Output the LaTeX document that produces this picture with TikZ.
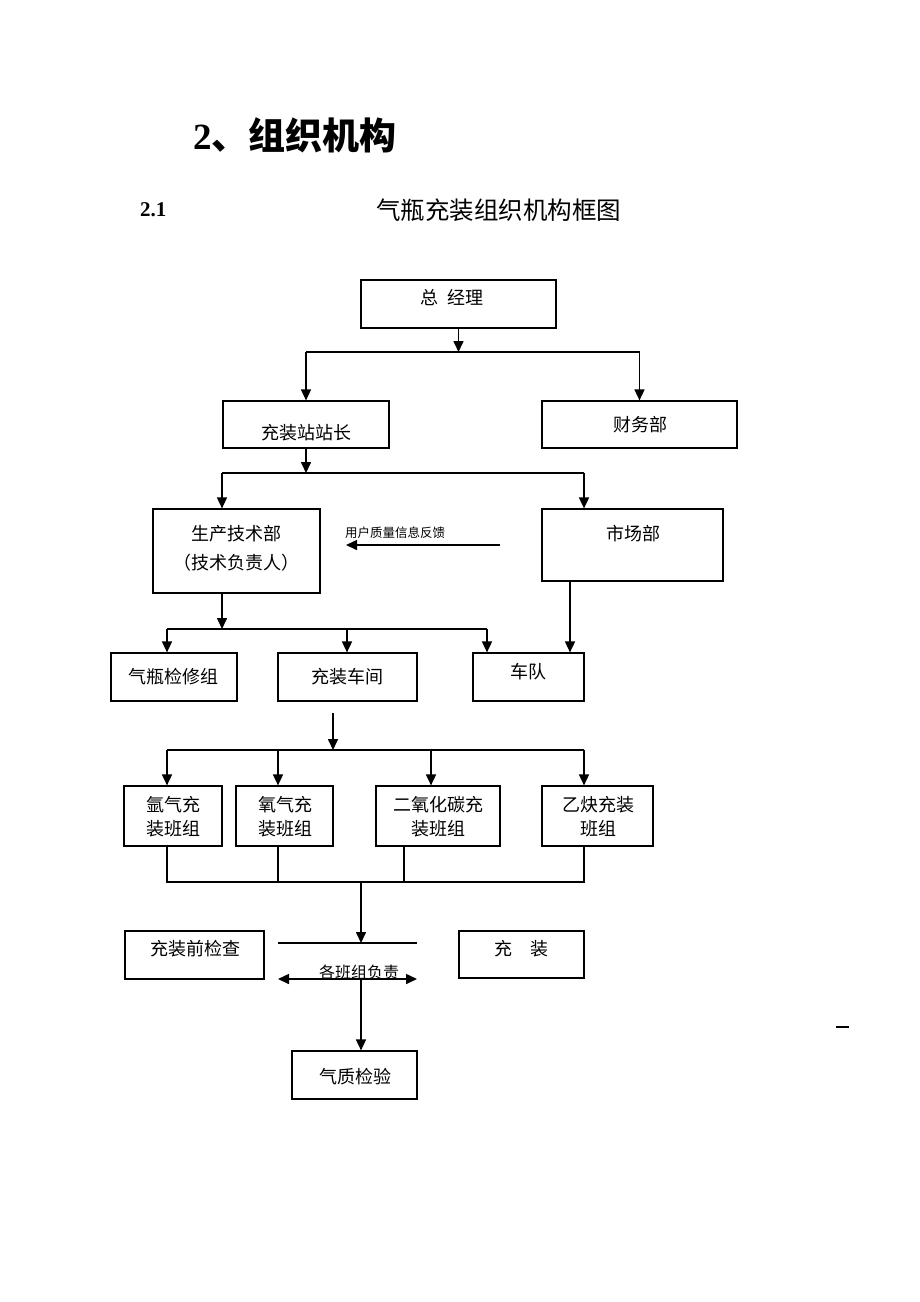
\documentclass[tikz,border=0pt]{standalone}
\usepackage{fontspec}
\setmainfont{Liberation Serif}
\newfontfamily\cjk{Noto Sans CJK SC}
\usetikzlibrary{arrows.meta}
\begin{document}
\begin{tikzpicture}[x=1pt,y=-1pt,
  box/.style={draw, line width=1.2pt, inner sep=0pt},
  txt/.style={font=\cjk\fontsize{18}{22}\selectfont, inner sep=0pt, align=center},
  ln/.style={line width=1.6pt},
  arr/.style={line width=1.6pt, -{Triangle[length=11pt,width=10pt]}},
  darr/.style={line width=1.6pt, {Triangle[length=11pt,width=10pt]}-{Triangle[length=11pt,width=10pt]}}]
\useasboundingbox (0,0) rectangle (920,1302);

% titles
\node[anchor=west, inner sep=0pt] (t1) at (193,135) {\fontsize{37}{40}\selectfont\bfseries 2\cjk 、组织机构};
\node[anchor=west, inner sep=0pt] (t2) at (140,210) {\fontsize{21}{24}\selectfont\bfseries 2.1};
\node[anchor=west, inner sep=0pt] (t3) at (376,210) {\cjk\fontsize{24.5}{28}\selectfont 气瓶充装组织机构框图};

% boxes
\node[box, minimum width=195pt, minimum height=48pt] (zjl) at (458.5,304) {};
\node[box, minimum width=166pt, minimum height=47pt] (zzz) at (306,424.5) {};
\node[box, minimum width=195pt, minimum height=47pt] (cwb) at (639.5,424.5) {};
\node[box, minimum width=167pt, minimum height=84pt] (scjs) at (236.5,551) {};
\node[box, minimum width=181pt, minimum height=72pt] (scb) at (632.5,545) {};
\node[box, minimum width=126pt, minimum height=48pt] (qpjx) at (174,677) {};
\node[box, minimum width=139pt, minimum height=48pt] (czcj) at (347.5,677) {};
\node[box, minimum width=111pt, minimum height=48pt] (cd) at (528.5,677) {};
\node[box, minimum width=98pt, minimum height=60pt] (ar) at (173,816) {};
\node[box, minimum width=97pt, minimum height=60pt] (o2) at (284.5,816) {};
\node[box, minimum width=124pt, minimum height=60pt] (co2) at (438,816) {};
\node[box, minimum width=111pt, minimum height=60pt] (yq) at (597.5,816) {};
\node[box, minimum width=139pt, minimum height=48pt] (czq) at (194.5,955) {};
\node[box, minimum width=125pt, minimum height=47pt] (cz) at (521.5,954.5) {};
\node[box, minimum width=125pt, minimum height=48pt] (qzjy) at (354.5,1075) {};

% box texts
\node[txt] (l1) at (452,298) {总\hspace{0.5em}经理};
\node[txt] (l2) at (306,433) {充装站站长};
\node[txt] (l3) at (640,425) {财务部};
\node[txt] (l4) at (236.5,534) {生产技术部};
\node[txt] (l4b) at (236.5,563) {（技术负责人）};
\node[txt] (l5) at (633,534) {市场部};
\node[txt] (l6) at (173,677) {气瓶检修组};
\node[txt] (l7) at (347,677) {充装车间};
\node[txt] (l8) at (528,672) {车队};
\node[txt] (l9) at (173,805) {氩气充};
\node[txt] (l9b) at (173,829) {装班组};
\node[txt] (l10) at (285,805) {氧气充};
\node[txt] (l10b) at (285,829) {装班组};
\node[txt] (l11) at (438,805) {二氧化碳充};
\node[txt] (l11b) at (438,829) {装班组};
\node[txt] (l12) at (598,805) {乙炔充装};
\node[txt] (l12b) at (598,829) {班组};
\node[txt] (l13) at (195,949) {充装前检查};
\node[txt] (l14) at (521,949) {充\hspace{1em}装};
\node[txt] (l15) at (355,1077) {气质检验};
\node[inner sep=0pt, font=\cjk\fontsize{12.5}{14}\selectfont] (fbl) at (395,533) {用户质量信息反馈};

% level 1
\coordinate (h1) at (0,352);
\draw[arr] (zjl.south) -- (zjl.south |- h1);
\draw[ln] (zzz.north |- h1) -- (cwb.north |- h1);
\draw[arr] (zzz.north |- h1) -- (zzz.north);
\draw[arr] (cwb.north |- h1) -- (cwb.north);

% level 2
\coordinate (a1) at (222,473);
\coordinate (a2) at (584,473);
\draw[arr] (zzz.south) -- (zzz.south |- a1);
\draw[ln] (a1) -- (a2);
\draw[arr] (a1) -- (a1 |- scjs.north);
\draw[arr] (a2) -- (a2 |- scb.north);

% feedback
\coordinate (fb1) at (500,545);
\coordinate (fb2) at (346,545);
\draw[arr] (fb1) -- (fb2);

% level 3
\coordinate (b0) at (222,629);
\coordinate (b1) at (167,629);
\coordinate (b2) at (347,629);
\coordinate (b3) at (487,629);
\coordinate (bx) at (570,0);
\draw[arr] (b0 |- scjs.south) -- (b0);
\draw[ln] (b1) -- (b3);
\draw[arr] (b1) -- (b1 |- qpjx.north);
\draw[arr] (b2) -- (b2 |- czcj.north);
\draw[arr] (b3) -- (b3 |- cd.north);
\draw[arr] (scb.south -| bx) -- (cd.north -| bx);

% level 4
\coordinate (d0) at (333,713);
\coordinate (d00) at (333,750);
\coordinate (d1) at (167,750);
\coordinate (d2) at (278,750);
\coordinate (d3) at (431,750);
\coordinate (d4) at (584,750);
\draw[arr] (d0) -- (d00);
\draw[ln] (d1) -- (d4);
\draw[arr] (d1) -- (d1 |- ar.north);
\draw[arr] (d2) -- (d2 |- o2.north);
\draw[arr] (d3) -- (d3 |- co2.north);
\draw[arr] (d4) -- (d4 |- yq.north);

% level 5
\coordinate (e1) at (167,882);
\coordinate (e2) at (278,882);
\coordinate (e3) at (404,882);
\coordinate (e4) at (584,882);
\coordinate (e0) at (361,882);
\draw[ln] (e1 |- ar.south) -- (e1) -- (e4) -- (e4 |- yq.south);
\draw[ln] (e2 |- o2.south) -- (e2);
\draw[ln] (e3 |- co2.south) -- (e3);
\coordinate (f0) at (361,943);
\coordinate (f1) at (278,943);
\coordinate (f2) at (417,943);
\draw[arr] (e0) -- (f0);
\draw[ln] (f1) -- (f2);
\coordinate (g0) at (361,979);
\coordinate (g1) at (278,979);
\coordinate (g2) at (417,979);
\draw[darr] (g1) -- (g2);
\node[inner sep=0pt, font=\cjk\fontsize{16}{18}\selectfont] (rsp) at (359,972) {各班组负责};
\draw[arr] (g0) -- (g0 |- qzjy.north);

% stray dash
\coordinate (s1) at (836,1027);
\coordinate (s2) at (849,1027);
\draw[line width=1.2pt] (s1) -- (s2);
\end{tikzpicture}
\end{document}
